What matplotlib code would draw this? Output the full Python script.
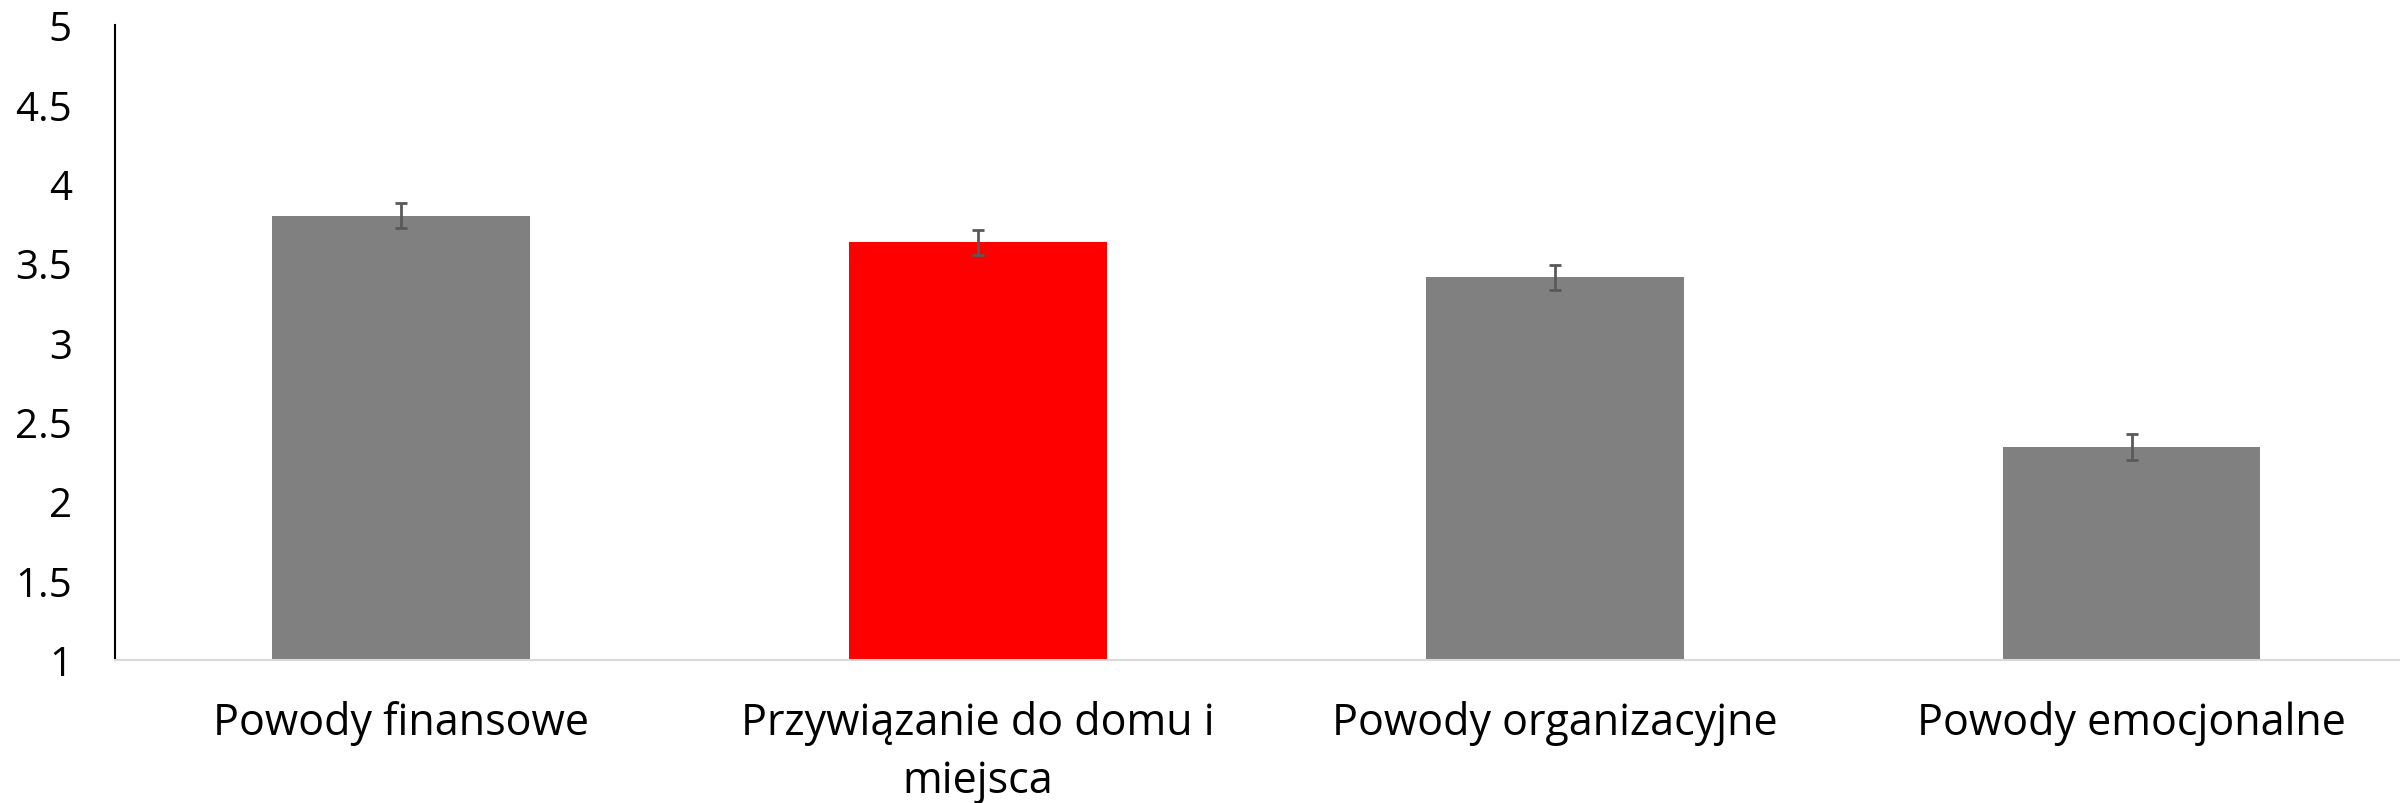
import numpy as np
import matplotlib
matplotlib.use("Agg")
import matplotlib.pyplot as plt

categories = ["Powody finansowe", "Przywiązanie do domu i\nmiejsca",
              "Powody organizacyjne", "Powody emocjonalne"]
means = [3.80, 3.63, 3.41, 2.34]
errors = [0.077, 0.077, 0.077, 0.082]
bar_colors = ["#808080", "#FF0000", "#808080", "#808080"]
y_ticks = [1, 1.5, 2, 2.5, 3, 3.5, 4, 4.5, 5]
y_tick_labels = ["1", "1.5", "2", "2.5", "3", "3.5", "4", "4.5", "5"]

plt.rcParams['font.family'] = ['Open Sans', 'DejaVu Sans']

fig = plt.figure(figsize=(24, 8.04), dpi=100)
ax = fig.add_axes([115 / 2400, 1 - 661 / 804, 1 - 115 / 2400, (661 - 26) / 804])

x = np.arange(len(categories))
ax.bar(x, np.array(means) - 1, bottom=1, width=0.446, color=bar_colors, zorder=2)
ax.errorbar(x, means, yerr=errors, fmt="none", ecolor="#595959",
            elinewidth=2, capsize=4.5, capthick=2, zorder=3)

ax.set_xlim(-0.496, 3.465)
ax.set_ylim(1, 5)
ax.set_yticks(y_ticks)
ax.set_yticklabels(y_tick_labels, fontsize=29)
ax.set_xticks(x)
ax.set_xticklabels(categories, fontsize=31, linespacing=1.38)
ax.tick_params(axis="y", length=0, pad=31)
ax.tick_params(axis="x", length=0, pad=29)

ax.spines["top"].set_visible(False)
ax.spines["right"].set_visible(False)
ax.spines["left"].set_color("black")
ax.spines["left"].set_linewidth(1.5)
ax.spines["bottom"].set_color("#d9d9d9")
ax.spines["bottom"].set_linewidth(1.5)

fig.savefig("out.png", dpi=100)
